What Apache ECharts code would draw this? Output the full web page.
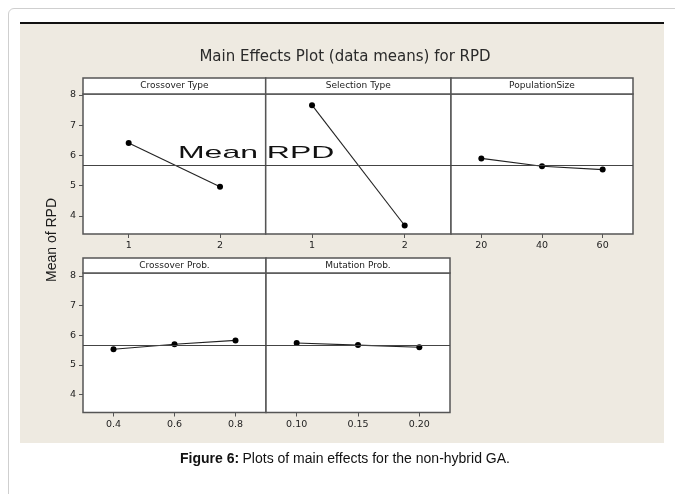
<!DOCTYPE html>
<html>
<head>
<meta charset="utf-8">
<script src="https://cdn.jsdelivr.net/npm/echarts@6/dist/echarts.min.js"></script>
<style>
html,body{margin:0;padding:0;background:#fff;overflow:hidden;}
#wrap{position:relative;width:675px;height:494px;overflow:hidden;}
.card{position:absolute;left:8px;top:8px;width:700px;height:520px;border:1px solid #cfcfcf;border-radius:6px;box-sizing:border-box;}
.beige{position:absolute;left:20px;top:22px;width:644px;height:421px;background:#eeeae1;border-top:2px solid #111;box-sizing:border-box;}
#chart{position:absolute;left:0;top:0;width:675px;height:494px;}
</style>
</head>
<body>
<div id="wrap">
<div class="card"></div>
<div class="beige"></div>
<div id="chart"></div>
</div>
<script>
// ---- data ----
const chartTitle = 'Main Effects Plot (data means) for RPD';
const yAxisTitle = 'Mean of RPD';
const caption = 'Plots of main effects for the non-hybrid GA.';
const factorNames = ['Crossover Type', 'Selection Type', 'PopulationSize', 'Crossover Prob.', 'Mutation Prob.'];
const crossoverTypeLevels = ['1', '2'];
const crossoverTypeMeans = [6.41, 4.96];
const selectionTypeLevels = ['1', '2'];
const selectionTypeMeans = [7.66, 3.68];
const populationSizeLevels = ['20', '40', '60'];
const populationSizeMeans = [5.90, 5.64, 5.53];
const crossoverProbLevels = ['0.4', '0.6', '0.8'];
const crossoverProbMeans = [5.53, 5.70, 5.83];
const mutationProbLevels = ['0.10', '0.15', '0.20'];
const mutationProbMeans = [5.74, 5.67, 5.60];
const meanRPD = 5.67;
const yTickValues = [4, 5, 6, 7, 8];

// ---- layout ----
const panels = [
  {levels: crossoverTypeLevels, means: crossoverTypeMeans, left: 83, top: 94, width: 182.7, height: 140, ymax: 8.03, showY: true},
  {levels: selectionTypeLevels, means: selectionTypeMeans, left: 265.7, top: 94, width: 185.3, height: 140, ymax: 8.03, showY: false},
  {levels: populationSizeLevels, means: populationSizeMeans, left: 451, top: 94, width: 182, height: 140, ymax: 8.03, showY: false},
  {levels: crossoverProbLevels, means: crossoverProbMeans, left: 83, top: 273, width: 183, height: 139.5, ymax: 8.1, showY: true},
  {levels: mutationProbLevels, means: mutationProbMeans, left: 266, top: 273, width: 184, height: 139.5, ymax: 8.1, showY: false}
];
const headerH = [16, 16, 16, 15, 15];

const chart = echarts.init(document.getElementById('chart'), null, {renderer: 'canvas'});

const grids = [], xAxes = [], yAxes = [], series = [];
const graphics = [
  {type: 'text', z: 5, x: 345, y: 57, style: {text: chartTitle, font: '15px "DejaVu Sans"', fill: '#2a2a2a', textAlign: 'center', textVerticalAlign: 'middle'}, silent: true},
  {type: 'text', z: 5, x: 52, y: 240, rotation: Math.PI / 2, style: {text: yAxisTitle, font: '14px "Liberation Sans"', fill: '#1a1a1a', textAlign: 'center', textVerticalAlign: 'middle'}, silent: true},
  {type: 'text', z: 20, x: 178, y: 162, scaleX: 1.88, style: {text: 'Mean RPD', font: '17px "Liberation Sans"', fill: '#111', textAlign: 'left', textVerticalAlign: 'bottom'}, silent: true},
  {type: 'text', z: 5, x: 345, y: 459, style: {rich: {b: {font: 'bold 14px "Liberation Sans"', fill: '#111'}, n: {font: '14px "Liberation Sans"', fill: '#111'}}, text: '{b|Figure 6:} {n|' + caption + '}', textAlign: 'center', textVerticalAlign: 'middle'}, silent: true}
];

panels.forEach((p, i) => {
  grids.push({left: p.left, top: p.top, width: p.width, height: p.height, show: true, backgroundColor: '#fff', borderColor: '#555', borderWidth: 1.5, containLabel: false});
  xAxes.push({
    type: 'category', gridIndex: i, data: p.levels, boundaryGap: true,
    axisLine: {show: false},
    axisTick: {show: true, alignWithLabel: true, length: 4, lineStyle: {color: '#555'}},
    axisLabel: {show: true, color: '#222', fontSize: 9.5, fontFamily: 'DejaVu Sans', margin: 7},
    splitLine: {show: false}
  });
  yAxes.push({
    type: 'value', gridIndex: i, min: 3.4, max: p.ymax,
    axisLine: {show: false},
    axisTick: {show: p.showY, length: 4, lineStyle: {color: '#555'}, customValues: yTickValues},
    axisLabel: {show: p.showY, color: '#222', fontSize: 9.5, fontFamily: 'DejaVu Sans', margin: 7, customValues: yTickValues},
    splitLine: {show: false}
  });
  series.push({
    type: 'line', xAxisIndex: i, yAxisIndex: i, data: p.means,
    symbol: 'circle', symbolSize: 6, itemStyle: {color: '#000'},
    lineStyle: {color: '#222', width: 1.1}, animation: false, silent: true,
    markLine: {silent: true, symbol: 'none', label: {show: false}, lineStyle: {color: '#444', width: 1, type: 'solid'}, data: [{yAxis: meanRPD}]}
  });
  graphics.push({type: 'rect', z: 10, shape: {x: p.left, y: p.top - headerH[i], width: p.width, height: headerH[i]}, style: {fill: '#fff', stroke: '#555', lineWidth: 1.5}, silent: true});
  graphics.push({type: 'text', z: 11, x: p.left + p.width / 2, y: p.top - headerH[i] / 2, style: {text: factorNames[i], font: '9px "DejaVu Sans"', fill: '#222', textAlign: 'center', textVerticalAlign: 'middle'}, silent: true});
});

chart.setOption({
  animation: false,
  backgroundColor: 'transparent',
  grid: grids,
  xAxis: xAxes,
  yAxis: yAxes,
  series: series,
  graphic: {elements: graphics}
});
</script>
</body>
</html>
